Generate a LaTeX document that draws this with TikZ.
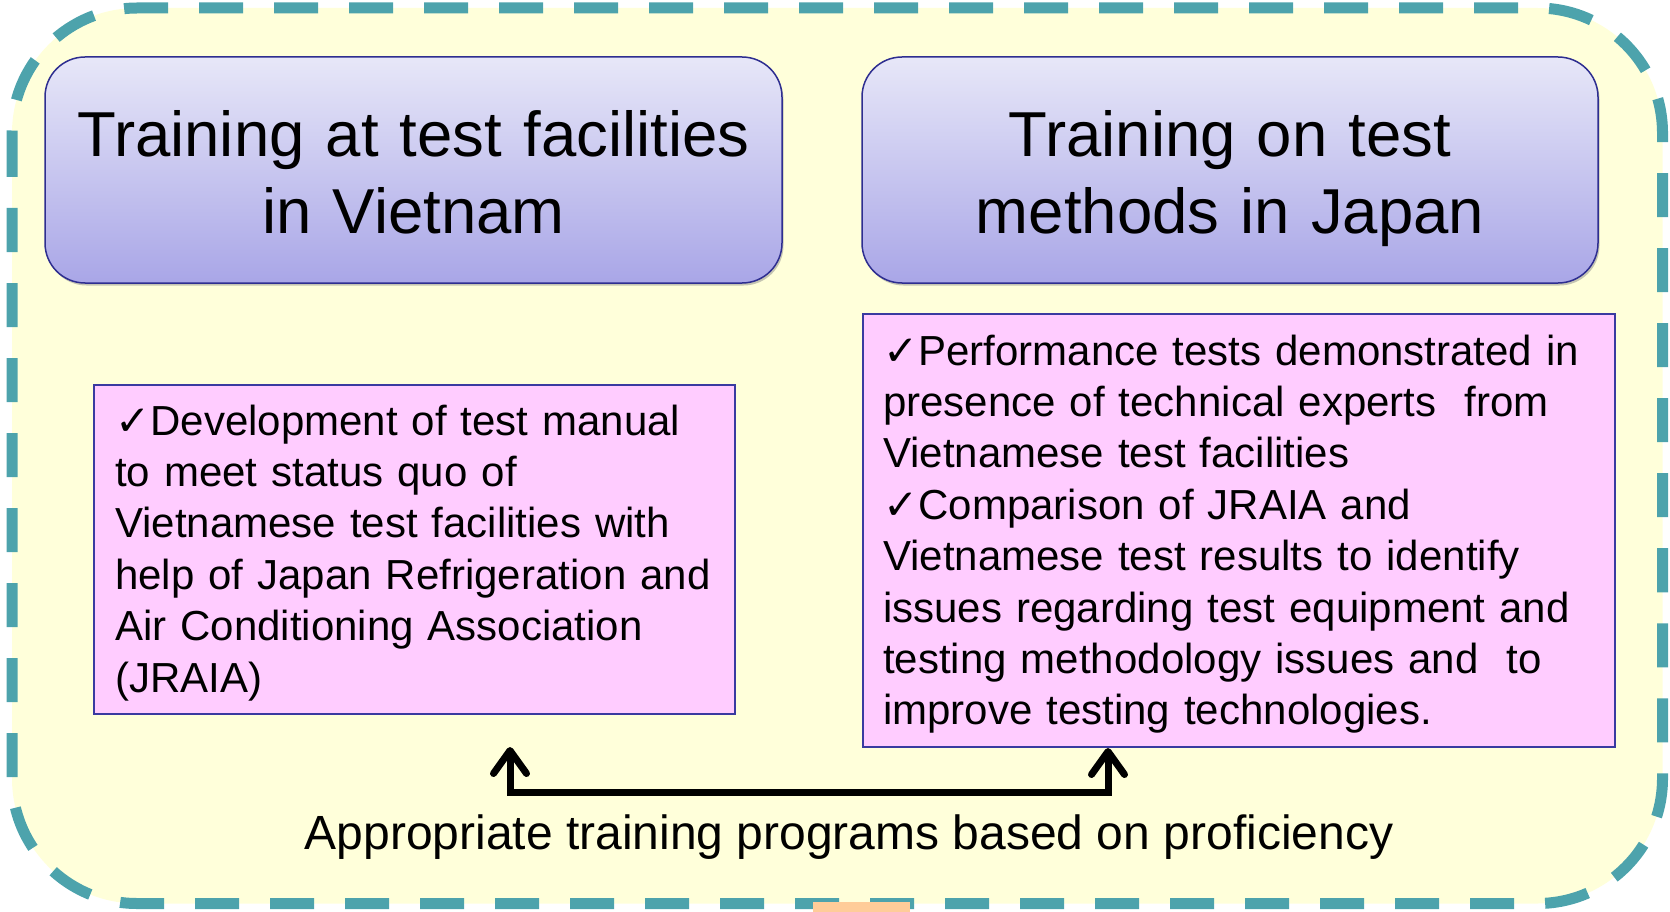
\documentclass[tikz,border=0pt]{standalone}
\usepackage{fontspec}
\setmainfont{Liberation Sans}
\newfontfamily\djv{DejaVu Sans}
\usetikzlibrary{arrows.meta,shadows}
\definecolor{frameteal}{HTML}{4DA3AC}
\definecolor{bgyellow}{HTML}{FFFFDA}
\definecolor{titletop}{HTML}{E7E7F8}
\definecolor{titlebot}{HTML}{A9A6E7}
\definecolor{titleedge}{HTML}{2E2E90}
\definecolor{pinkfill}{HTML}{FFCCFF}
\definecolor{pinkedge}{HTML}{3A3AA0}
\definecolor{orangebit}{HTML}{FFCC99}
\newcommand{\chk}{{\djv ✓}}
\begin{document}
\begin{tikzpicture}[x=1pt,y=-1pt,
  frame/.style={draw=frameteal, line width=11pt, dash pattern=on 44pt off 31pt, fill=bgyellow, rounded corners=125pt},
  titlebox/.style={draw=titleedge, line width=1.5pt, rounded corners=40pt, top color=titletop, bottom color=titlebot,
    drop shadow={shadow xshift=1.5pt, shadow yshift=-2.5pt, fill=black!45}, inner sep=0pt},
  pinkbox/.style={draw=pinkedge, line width=2pt, fill=pinkfill, inner sep=0pt, anchor=north west},
  titletext/.style={font=\fontsize{63.5}{76.5}\selectfont, text width=720pt, align=center, anchor=base, inner sep=0pt},
  bodytext/.style={font=\fontsize{42}{51.4}\selectfont, text width=720pt, align=left, anchor=base west, inner sep=0pt},
  bottomtext/.style={font=\fontsize{48}{58}\selectfont, anchor=base, inner sep=0pt},
  conn/.style={line width=7pt, {Straight Barb[length=23pt,width=33pt,round]}-{Straight Barb[length=23pt,width=33pt,round]}}
]
\useasboundingbox (0,0) rectangle (1670,912);
% outer frame
\path[frame] (12,8) rectangle (1662.5,903.5);
\fill[orangebit] (813,902) rectangle (910,912);
% title boxes
\node[titlebox, minimum width=737pt, minimum height=226pt] (t1) at (413.5,170) {};
\node[titlebox, minimum width=736pt, minimum height=226pt] (t2) at (1230,170) {};
\node[titletext] (t1txt) at (413.5,157) {Training at test facilities\\in Vietnam};
\node[titletext] (t2txt) at (1230,157) {Training on test\\methods in Japan};
% pink boxes
\node[pinkbox, minimum width=641pt, minimum height=329pt] (lb) at (93,384) {};
\node[pinkbox, minimum width=752pt, minimum height=433pt] (rb) at (862,313) {};
\node[bodytext] (lbtxt) at (115,435) {\chk Development of test manual\\to meet status quo of\\Vietnamese test facilities with\\help of Japan Refrigeration and\\Air Conditioning Association\\(JRAIA)};
\node[bodytext] (rbtxt) at (883,365) {\chk Performance tests demonstrated in\\presence of technical experts~ from\\Vietnamese test facilities\\\chk Comparison of JRAIA and\\Vietnamese test results to identify\\issues regarding test equipment and\\testing methodology issues and~ to\\improve testing technologies.};
% connector
\coordinate (la) at (510,747);
\coordinate (ra) at (rb.south -| 1108,0);
\coordinate (mid) at (809,792);
\draw[conn] (la) |- (mid) -| (ra);
\node[bottomtext] (lbl) at (849,849) {Appropriate training programs based on proficiency};
\end{tikzpicture}
\end{document}
